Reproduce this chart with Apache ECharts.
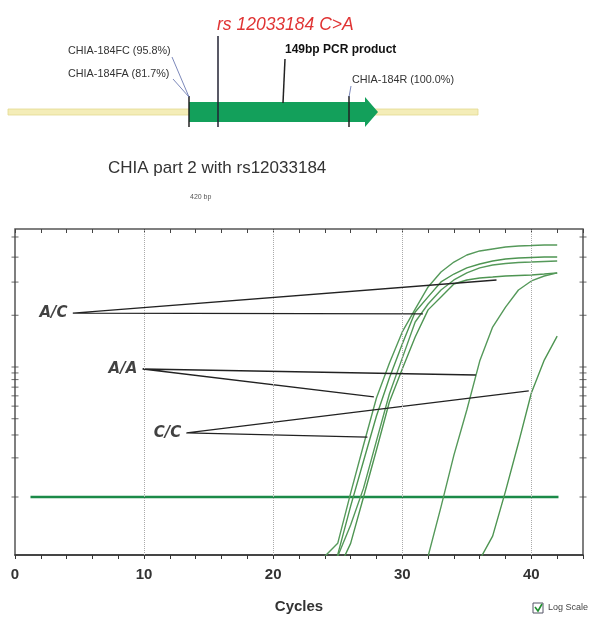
<!DOCTYPE html>
<html>
<head>
<meta charset="utf-8">
<script src="https://cdn.jsdelivr.net/npm/echarts@6/dist/echarts.min.js"></script>
<style>
  html, body { margin: 0; padding: 0; background: #fff; }
  #chart { width: 602px; height: 628px; }
</style>
</head>
<body>
<div id="chart"></div>
<script>
// amplification curves, fluorescence per cycle (log scale)
const cycles = [24, 25, 26, 27, 28, 29, 30, 31, 32, 33, 34, 35, 36, 37, 38, 39, 40, 41, 42]
const curveE1 = [0.035, 0.044, 0.107, 0.251, 0.578, 1.07, 1.86, 2.79, 4.13, 5.38, 6.42, 7.27, 7.81, 8.09, 8.38, 8.53, 8.6, 8.68, 8.68]
const curveE2 = [0.016, 0.036, 0.085, 0.189, 0.42, 0.823, 1.5, 2.65, 3.46, 4.51, 5.19, 5.78, 6.2, 6.54, 6.77, 6.9, 6.96, 7.02, 7.02]
const curveE3 = [0.016, 0.035, 0.061, 0.117, 0.27, 0.62, 1.17, 2.22, 3.05, 3.91, 4.67, 5.29, 5.78, 6.09, 6.26, 6.37, 6.42, 6.48, 6.54]
const curveE4 = [0.016, 0.027, 0.044, 0.1, 0.23, 0.538, 0.965, 1.7, 2.75, 3.46, 4.35, 4.67, 4.84, 4.92, 5.01, 5.06, 5.1, 5.19, 5.29]
const curveL1 = [null, null, null, null, null, null, null, 0.016, 0.035, 0.084, 0.21, 0.467, 1.11, 2.03, 2.89, 3.91, 4.59, 5.01, 5.29]
const curveL2 = [null, null, null, null, null, null, null, null, null, null, null, 0.016, 0.033, 0.05, 0.111, 0.26, 0.631, 1.13, 1.73]

const thresholdValue = 0.1
const thresholdSpan = [1.2, 42.1]

// genotype call-outs: [end1, origin, end2]
const genotypeNames = ['A/C', 'A/A', 'C/C']
const calloutAC = [[37.3, 4.67], [4.5, 2.6], [31.6, 2.56]]
const calloutAA = [[35.7, 0.868], [9.9, 0.965], [27.8, 0.588]]
const calloutCC = [[39.8, 0.654], [13.3, 0.311], [27.3, 0.289]]

const xLabelTicks = [0, 10, 20, 30, 40]
const yTickValues = [0.1, 0.2, 0.3, 0.4, 0.5, 0.6, 0.7, 0.8, 0.9, 1, 2.5, 4.5, 7, 10]

const chart = echarts.init(document.getElementById('chart'))

const curveColor = '#55995a'
const curves = [curveE1, curveE2, curveE3, curveE4, curveL1, curveL2].map(function (arr, i) {
    return {
        name: 'curve' + i,
        type: 'line',
        showSymbol: false,
        symbol: 'none',
        lineStyle: { color: i % 2 ? '#4e9552' : curveColor, width: 1.4 },
        data: cycles.map(function (c, j) { return [c, arr[j]] }),
        z: 3
    }
})

const callouts = [calloutAC, calloutAA, calloutCC].map(function (pts) {
    return {
        type: 'line',
        showSymbol: false,
        symbol: 'none',
        lineStyle: { color: '#222', width: 1.3 },
        data: pts,
        z: 4
    }
})

const arrowTop = 102, arrowBot = 122

let option = {
    animation: false,
    backgroundColor: '#fff',
    grid: {
        left: 15,
        right: 19,
        top: 229,
        bottom: 73,
        show: true,
        borderColor: '#555',
        borderWidth: 1.5
    },
    xAxis: [
        {
            type: 'value',
            min: 0,
            max: 44,
            interval: 2,
            name: 'Cycles',
            nameLocation: 'middle',
            nameGap: 44,
            nameTextStyle: { fontSize: 15, fontWeight: 'bold', color: '#333', fontFamily: 'Liberation Sans' },
            axisLine: { lineStyle: { color: '#333', width: 1.5 } },
            axisTick: { length: 4, lineStyle: { color: '#333' } },
            axisLabel: {
                color: '#333',
                fontSize: 15,
                fontWeight: 'bold',
                fontFamily: 'Liberation Sans',
                margin: 12,
                formatter: function (v) { return xLabelTicks.indexOf(v) >= 0 ? String(v) : '' }
            },
            splitLine: { show: false }
        },
        {
            type: 'value',
            position: 'top',
            min: 0,
            max: 44,
            interval: 2,
            axisLine: { show: false },
            axisTick: { inside: true, length: 4, lineStyle: { color: '#444' } },
            axisLabel: { show: false },
            splitLine: { show: false }
        }
    ],
    yAxis: {
        type: 'log',
        logBase: 10,
        min: 0.0358,
        max: 11.52,
        axisLine: { show: false },
        axisTick: { show: false },
        axisLabel: { show: false },
        splitLine: { show: false }
    },
    series: [
        {
            name: 'threshold',
            type: 'line',
            showSymbol: false,
            symbol: 'none',
            lineStyle: { color: '#1b8a48', width: 2.5 },
            data: [[thresholdSpan[0], thresholdValue], [thresholdSpan[1], thresholdValue]],
            z: 2,
            markLine: {
                silent: true,
                symbol: ['none', 'none'],
                label: { show: false },
                lineStyle: { type: 'dotted', color: '#aaa', width: 1 },
                data: xLabelTicks.filter(function (v) { return v > 0 }).map(function (v) { return { xAxis: v } })
            }
        }
    ].concat(curves, callouts, [
        {
            name: 'genotypes',
            type: 'scatter',
            symbolSize: 1,
            itemStyle: { color: '#222' },
            label: {
                show: true,
                position: 'left',
                distance: 5,
                color: '#111',
                fontSize: 15,
                fontWeight: 'bold',
                fontStyle: 'italic',
                fontFamily: 'DejaVu Sans',
                formatter: function (p) { return p.value[2] }
            },
            data: [calloutAC[1], calloutAA[1], calloutCC[1]].map(function (p, i) {
                return [p[0], p[1], genotypeNames[i]]
            }),
            z: 5
        },
        {
            name: 'yTicksLeft',
            type: 'scatter',
            clip: false,
            symbol: 'rect',
            symbolSize: [7, 1],
            itemStyle: { color: '#444' },
            data: yTickValues.map(function (v) { return [0, v] }),
            silent: true
        },
        {
            name: 'yTicksRight',
            type: 'scatter',
            clip: false,
            symbol: 'rect',
            symbolSize: [7, 1],
            itemStyle: { color: '#444' },
            data: yTickValues.map(function (v) { return [44, v] }),
            silent: true
        }
    ]),
    graphic: [
        // sequence track
        { type: 'rect', shape: { x: 8, y: 109, width: 470, height: 6 }, style: { fill: '#f4edb8', stroke: '#e3d98f', lineWidth: 0.8 } },
        // PCR product arrow
        {
            type: 'polygon',
            shape: { points: [[189, arrowTop], [365, arrowTop], [365, 97], [378, 112], [365, 127], [365, arrowBot], [189, arrowBot]] },
            style: { fill: '#13a05b' }
        },
        { type: 'line', shape: { x1: 189, y1: 96, x2: 189, y2: 127 }, style: { stroke: '#222', lineWidth: 1.5 } },
        { type: 'line', shape: { x1: 218, y1: 36, x2: 218, y2: 127 }, style: { stroke: '#223', lineWidth: 1.5 } },
        { type: 'line', shape: { x1: 349, y1: 96, x2: 349, y2: 127 }, style: { stroke: '#222', lineWidth: 1.5 } },
        { type: 'line', shape: { x1: 285, y1: 59, x2: 283, y2: 103 }, style: { stroke: '#222', lineWidth: 1.5 } },
        { type: 'line', shape: { x1: 172, y1: 57, x2: 189, y2: 97 }, style: { stroke: '#5a6aa8', lineWidth: 0.8 } },
        { type: 'line', shape: { x1: 173, y1: 79, x2: 189, y2: 97 }, style: { stroke: '#5a6aa8', lineWidth: 0.8 } },
        { type: 'line', shape: { x1: 351, y1: 86, x2: 349, y2: 97 }, style: { stroke: '#5a6aa8', lineWidth: 0.8 } },
        { type: 'text', style: { text: 'rs 12033184 C>A', x: 217, y: 25, fill: '#e03434', font: 'italic 17.5px "Liberation Sans"', textVerticalAlign: 'middle' } },
        { type: 'text', style: { text: '149bp PCR product', x: 285, y: 50, fill: '#111', font: 'bold 12px "Liberation Sans"', textVerticalAlign: 'middle' } },
        { type: 'text', style: { text: 'CHIA-184FC (95.8%)', x: 68, y: 51, fill: '#333', font: '10.8px "Liberation Sans"', textVerticalAlign: 'middle' } },
        { type: 'text', style: { text: 'CHIA-184FA (81.7%)', x: 68, y: 74, fill: '#333', font: '10.8px "Liberation Sans"', textVerticalAlign: 'middle' } },
        { type: 'text', style: { text: 'CHIA-184R (100.0%)', x: 352, y: 80, fill: '#333', font: '10.8px "Liberation Sans"', textVerticalAlign: 'middle' } },
        // chart title
        { type: 'text', style: { text: 'CHIA part 2 with rs12033184', x: 108, y: 168, fill: '#333', font: '17px "Liberation Sans"', textVerticalAlign: 'middle' } },
        { type: 'text', style: { text: '420 bp', x: 190, y: 197, fill: '#555', font: '7px "Liberation Sans"', textVerticalAlign: 'middle' } },
        // log scale checkbox
        { type: 'rect', shape: { x: 533, y: 603, width: 10, height: 10 }, style: { fill: '#fff', stroke: '#556', lineWidth: 1 } },
        { type: 'polyline', shape: { points: [[535, 607], [538, 611], [542, 604]] }, style: { stroke: '#1f8f2f', lineWidth: 1.6, fill: null } },
        { type: 'text', style: { text: 'Log Scale', x: 548, y: 608, fill: '#444', font: '9px "Liberation Sans"', textVerticalAlign: 'middle' } }
    ]
}

chart.setOption(option)
</script>
</body>
</html>
